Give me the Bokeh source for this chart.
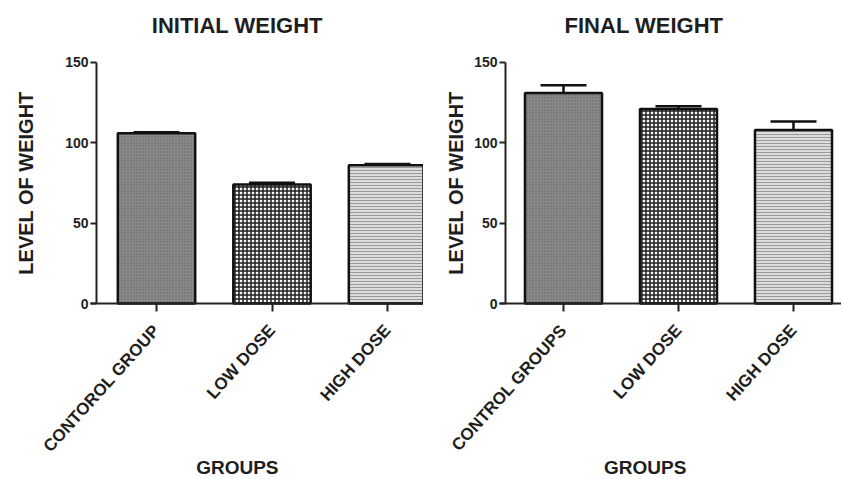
import math
from bokeh.plotting import figure
from bokeh.layouts import row
from bokeh.models import (ColumnDataSource, Range1d, FixedTicker, Whisker, TeeHead, Label)
from bokeh.embed import file_html
from bokeh.resources import INLINE

# ---- data ----
initial_groups = ["CONTOROL GROUP", "LOW DOSE", "HIGH DOSE"]
initial_mean = [106, 74, 86]
initial_sd = [0.5, 1.2, 0.8]

final_groups = ["CONTROL GROUPS", "LOW DOSE", "HIGH DOSE"]
final_mean = [131, 121, 108]
final_sd = [4.8, 1.7, 5.2]

y_ticks = [0, 50, 100, 150]
y_min, y_max = 0, 150

FONT = "Liberation Sans"
TXT = "#1e1e1e"

fills = ["#8a8a8a", "#f4f4f4", "#dcdcdc"]
hatches = ["dot", "cross", "horizontal_line"]
hatch_colors = ["#636363", "#222222", "#9a9a9a"]
hatch_scales = [3, 4, 3]
hatch_weights = [1, 1.5, 1]

H = 478
PX_PER_Y = 1.607     # pixels per unit of weight
Y0_PX = 303          # pixel row of weight 0 (from top)


def make_panel(title, groups, means, sds, width, px_per_x, x0_px, yaxis_px,
               ylabel_px, title_x, xlabel_x):
    x_start = -x0_px / px_per_x
    x_end = x_start + width / px_per_x
    y_start = -(H - Y0_PX) / PX_PER_Y
    y_end = Y0_PX / PX_PER_Y
    yaxis_x = (yaxis_px - x0_px) / px_per_x

    p = figure(width=width, height=H, output_backend="svg", toolbar_location=None,
               x_range=Range1d(x_start, x_end), y_range=Range1d(y_start, y_end),
               min_border=0, min_border_left=0, min_border_right=0,
               min_border_top=0, min_border_bottom=0)
    p.outline_line_color = None
    p.grid.visible = False
    p.background_fill_color = "white"
    p.border_fill_color = "white"

    idx = list(range(len(groups)))
    src = ColumnDataSource(dict(
        x=idx, top=means, upper=[m + s for m, s in zip(means, sds)],
        fill=fills, hatch=hatches, hcol=hatch_colors, hscale=hatch_scales,
        hweight=hatch_weights))
    p.vbar(x="x", top="top", bottom=0, width=0.67, source=src,
           fill_color="fill", hatch_pattern="hatch", hatch_color="hcol",
           hatch_scale="hscale", hatch_weight="hweight",
           line_color="#111111", line_width=2.5)
    w = Whisker(base="x", lower="top", upper="upper", source=src,
                line_color="#111111", line_width=2.5,
                upper_head=TeeHead(size=46, line_width=2.5, line_color="#111111"),
                lower_head=None)
    p.add_layout(w)

    # axes drawn at fixed data locations inside the frame
    p.xaxis.fixed_location = y_min
    p.xaxis.bounds = (yaxis_x - 0.05, x_end)
    p.xaxis.ticker = FixedTicker(ticks=idx)
    p.xaxis.major_label_overrides = {i: g for i, g in zip(idx, groups)}
    p.xaxis.major_label_orientation = math.radians(48)
    p.xaxis.major_tick_out = 8
    p.xaxis.major_tick_in = 0
    p.xaxis.minor_tick_line_color = None
    p.xaxis.major_label_standoff = 16
    p.yaxis.fixed_location = yaxis_x
    p.yaxis.bounds = (y_min, y_max)
    p.yaxis.ticker = FixedTicker(ticks=y_ticks)
    p.yaxis.major_tick_out = 6
    p.yaxis.major_tick_in = 0
    p.yaxis.minor_tick_line_color = None
    p.yaxis.major_label_standoff = 2
    for ax in (p.xaxis, p.yaxis):
        ax.axis_line_width = 2
        ax.axis_line_color = "#222222"
        ax.major_tick_line_width = 2
        ax.major_tick_line_color = "#222222"
        ax.major_label_text_font = FONT
        ax.major_label_text_font_style = "bold"
        ax.major_label_text_color = TXT
    p.xaxis.major_label_text_font_size = "17px"
    p.yaxis.major_label_text_font_size = "14px"

    p.add_layout(Label(x=title_x, y=173, text=title, text_align="center",
                       text_baseline="middle", text_font=FONT, text_font_size="22px",
                       text_font_style="bold", text_color=TXT))
    p.add_layout(Label(x=xlabel_x, y=-102, text="GROUPS", text_align="center",
                       text_baseline="middle", text_font=FONT, text_font_size="19px",
                       text_font_style="bold", text_color=TXT))
    p.add_layout(Label(x=(ylabel_px - x0_px) / px_per_x, y=75, text="LEVEL OF WEIGHT",
                       angle=math.pi / 2, text_align="center", text_baseline="middle",
                       text_font=FONT, text_font_size="20px", text_font_style="bold",
                       text_color=TXT))
    return p


left = make_panel("INITIAL WEIGHT", initial_groups, initial_mean, initial_sd,
                  width=423, px_per_x=115.5, x0_px=156, yaxis_px=96,
                  ylabel_px=25, title_x=0.70, xlabel_x=0.70)
right = make_panel("FINAL WEIGHT", final_groups, final_mean, final_sd,
                   width=418, px_per_x=115.0, x0_px=140, yaxis_px=82,
                   ylabel_px=32, title_x=0.70, xlabel_x=0.71)

layout = row(left, right)
open("out.html", "w").write(file_html(layout, INLINE))
